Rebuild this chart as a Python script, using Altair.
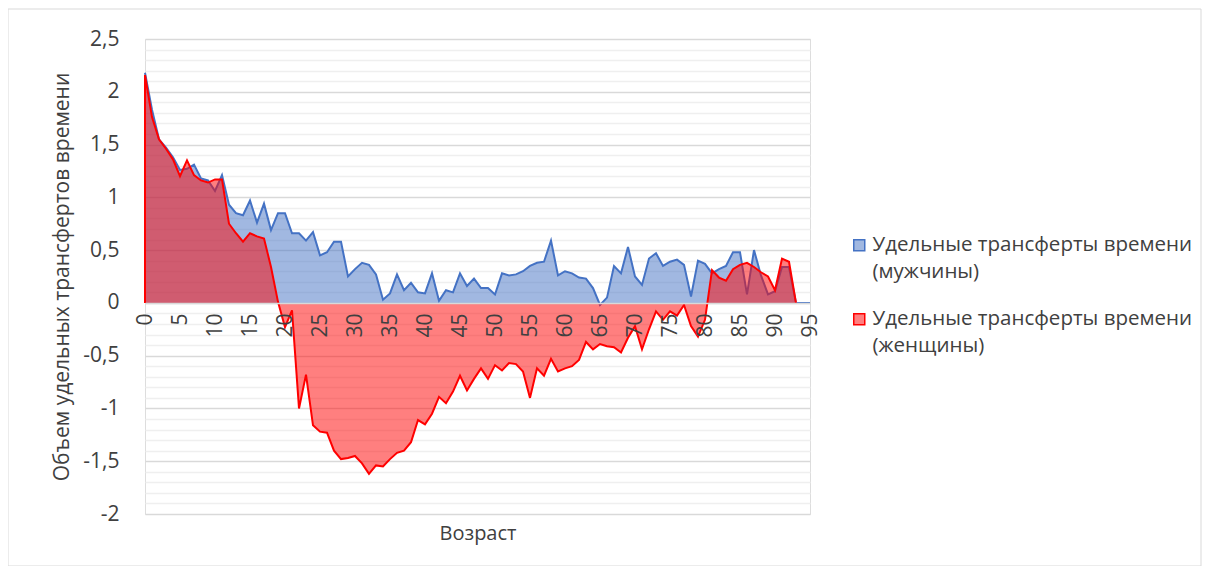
import altair as alt
import pandas as pd

# ---------------- data ----------------
AGES = list(range(0, 96))

MALE_VALUES = [
    2.18, 1.83, 1.55, 1.47, 1.38, 1.26, 1.27, 1.31, 1.18, 1.16,
    1.06, 1.21, 0.93, 0.85, 0.83, 0.97, 0.76, 0.94, 0.69, 0.85,
    0.85, 0.66, 0.66, 0.59, 0.67, 0.45, 0.48, 0.58, 0.58, 0.25,
    0.32, 0.38, 0.36, 0.27, 0.03, 0.09, 0.27, 0.12, 0.19, 0.10,
    0.09, 0.28, 0.02, 0.12, 0.10, 0.28, 0.16, 0.23, 0.14, 0.14,
    0.08, 0.28, 0.26, 0.27, 0.30, 0.35, 0.38, 0.39, 0.59, 0.26,
    0.30, 0.28, 0.24, 0.23, 0.14, -0.02, 0.05, 0.35, 0.28, 0.53,
    0.25, 0.17, 0.42, 0.47, 0.35, 0.39, 0.41, 0.36, 0.06, 0.40,
    0.37, 0.28, 0.32, 0.35, 0.48, 0.48, 0.08, 0.50, 0.26, 0.08,
    0.11, 0.34, 0.34, 0.00, 0.00, 0.00,
]

FEMALE_VALUES = [
    2.16, 1.76, 1.55, 1.46, 1.36, 1.20, 1.35, 1.21, 1.16, 1.14,
    1.17, 1.17, 0.75, 0.66, 0.58, 0.66, 0.63, 0.61, 0.34, 0.01,
    -0.23, -0.07, -1.00, -0.68, -1.16, -1.22, -1.23, -1.40, -1.48, -1.47,
    -1.45, -1.52, -1.62, -1.54, -1.55, -1.48, -1.42, -1.40, -1.32, -1.11,
    -1.15, -1.05, -0.89, -0.95, -0.84, -0.69, -0.83, -0.72, -0.62, -0.72,
    -0.59, -0.64, -0.57, -0.58, -0.65, -0.90, -0.62, -0.69, -0.53, -0.65,
    -0.62, -0.60, -0.54, -0.37, -0.44, -0.39, -0.41, -0.42, -0.47, -0.33,
    -0.22, -0.44, -0.25, -0.08, -0.16, -0.08, -0.12, -0.02, -0.22, -0.32,
    -0.16, 0.31, 0.24, 0.21, 0.32, 0.36, 0.38, 0.34, 0.29, 0.25,
    0.12, 0.42, 0.39, 0.00,
]

X_TICKS = [0, 5, 10, 15, 20, 25, 30, 35, 40, 45, 50, 55, 60, 65, 70, 75, 80, 85, 90, 95]
Y_TICKS = [round(-2 + 0.1 * i, 1) for i in range(46)]

MALE = "Удельные трансферты времени (мужчины)"
FEMALE = "Удельные трансферты времени (женщины)"
SERIES = [MALE, FEMALE]
LINE_COLORS = ["#4472C4", "#FF0000"]
FILL_COLORS = ["rgba(68,114,196,0.5)", "rgba(255,0,0,0.5)"]

Y_TITLE = "Объем удельных трансфертов времени"
X_TITLE = "Возраст"

# ---------------- styling ----------------
FONT = "Open Sans"
TEXT = "#404040"
FS = 21
W, H = 665, 475
Y_MIN, Y_MAX = -2, 2.5
ZERO_OFFSET = -H * (0 - Y_MIN) / (Y_MAX - Y_MIN)

df = pd.DataFrame({
    "age": AGES + AGES[:len(FEMALE_VALUES)],
    "value": MALE_VALUES + FEMALE_VALUES,
    "series": [MALE] * len(MALE_VALUES) + [FEMALE] * len(FEMALE_VALUES),
})

MAJOR = "abs(datum.value * 2 - round(datum.value * 2)) < 0.001"

x_enc = alt.X(
    "age:Q",
    scale=alt.Scale(domain=[0, 95], nice=False, zero=False),
    axis=alt.Axis(
        values=X_TICKS, labelAngle=270, offset=ZERO_OFFSET, grid=False, ticks=False,
        domainColor="#D9D9D9", domainWidth=1.5, labelFlush=False, labelOverlap=False,
        labelPadding=10, labelFontSize=FS, labelFont=FONT, labelColor=TEXT,
        title=X_TITLE, titleFontSize=FS - 1, titleFont=FONT, titleColor=TEXT,
        titleFontWeight="normal", titlePadding=187, zindex=1,
    ),
)

y_enc = alt.Y(
    "value:Q",
    scale=alt.Scale(domain=[Y_MIN, Y_MAX], nice=False, zero=False),
    axis=alt.Axis(
        values=Y_TICKS, domain=False, ticks=False, labelOverlap=False,
        labelExpr=f"{MAJOR} ? (datum.value < 0 ? '-' : '') + replace(format(abs(datum.value), '~g'), '.', ',') : ''",
        gridColor={"condition": {"test": MAJOR, "value": "#D9D9D9"}, "value": "#EFEFEF"},
        gridWidth=1.5,
        labelPadding=26, labelFontSize=FS, labelFont=FONT, labelColor=TEXT,
        title=Y_TITLE, titleFontSize=FS, titleFont=FONT, titleColor=TEXT,
        titleFontWeight="normal", titlePadding=10,
    ),
)

legend = alt.Legend(
    title=None, orient="none", legendX=704, legendY=196,
    symbolType="square", symbolSize=121, symbolStrokeWidth=1.5,
    labelExpr="[slice(datum.label, 0, indexof(datum.label, ' (')), slice(datum.label, indexof(datum.label, ' (') + 1)]",
    labelFontSize=20.5, labelFont=FONT, labelColor=TEXT, labelLimit=500,
    labelOffset=3, labelBaseline="middle", rowPadding=26,
)

fill_enc = alt.Fill("series:N", scale=alt.Scale(domain=SERIES, range=FILL_COLORS), legend=legend)
stroke_enc = alt.Stroke("series:N", scale=alt.Scale(domain=SERIES, range=LINE_COLORS), legend=legend)

base = alt.Chart(df)

male_area = base.transform_filter(alt.datum.series == MALE).mark_area().encode(
    x=x_enc, y=y_enc, y2=alt.Y2(datum=0), fill=fill_enc)
male_line = base.transform_filter(alt.datum.series == MALE).mark_line(strokeWidth=2).encode(
    x=x_enc, y=y_enc, stroke=stroke_enc)
female_area = base.transform_filter(alt.datum.series == FEMALE).mark_area().encode(
    x=x_enc, y=y_enc, y2=alt.Y2(datum=0), fill=fill_enc)
female_line = base.transform_filter(alt.datum.series == FEMALE).mark_line(strokeWidth=2).encode(
    x=x_enc, y=y_enc, stroke=stroke_enc)
female_edge = base.transform_filter(
    (alt.datum.series == FEMALE) & (alt.datum.age == 0)
).mark_rule(color="#FF0000", strokeWidth=2).encode(x=x_enc, y=y_enc, y2=alt.Y2(datum=0))

frame = alt.Chart(alt.Data(values=[{"f": 1}])).mark_rect(
    fillOpacity=0, stroke="#D9D9D9", strokeWidth=1, clip=False
).encode(x=alt.value(-137), x2=alt.value(1056), y=alt.value(-30), y2=alt.value(527))

chart = alt.layer(
    frame, male_area, male_line, female_area, female_line, female_edge
).properties(
    width=W, height=H,
    padding={"left": 137, "top": 31, "right": 392, "bottom": 52},
    autosize=alt.AutoSizeParams(type="none"),
    background="white",
).configure_view(stroke=None).configure(
    style={"guide-label": {"lineHeight": 27}}
)

chart.save("out.html", embed_options={"renderer": "svg", "actions": False})
